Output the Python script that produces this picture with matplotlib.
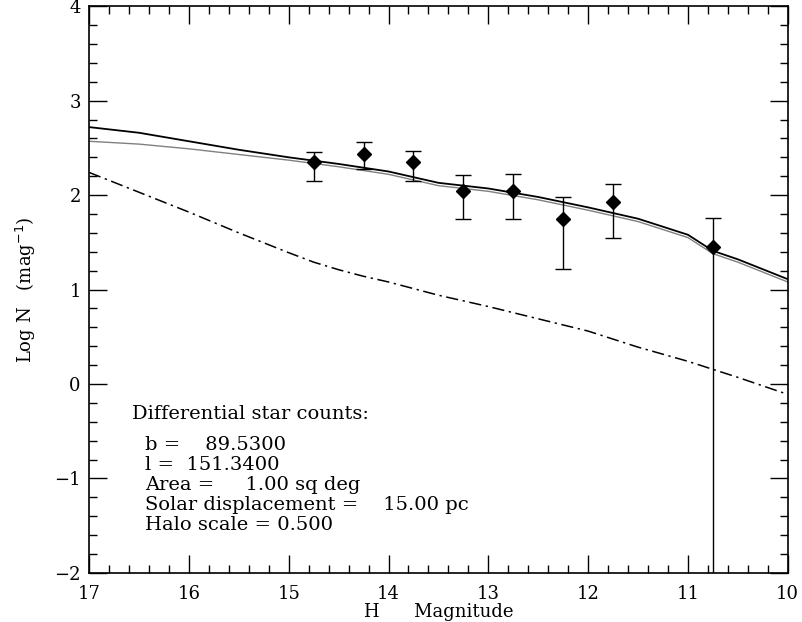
import numpy as np
import matplotlib
matplotlib.use('Agg')
import matplotlib.pyplot as plt
from matplotlib.ticker import MultipleLocator

# observed differential counts
obs_mag = [14.75, 14.25, 13.75, 13.25, 12.75, 12.25, 11.75, 10.75]
obs_logn = [2.35, 2.44, 2.35, 2.04, 2.04, 1.75, 1.93, 1.45]
obs_hi = [2.46, 2.56, 2.47, 2.21, 2.22, 1.98, 2.12, 1.76]
obs_lo = [2.15, 2.28, 2.15, 1.75, 1.75, 1.22, 1.55, -2.6]

# model curves
model_mag = [17.0, 16.5, 16.0, 15.5, 15.0, 14.5, 14.0, 13.5, 13.0, 12.5, 12.0, 11.5, 11.0, 10.75, 10.5, 10.0]
model_total = [2.72, 2.66, 2.57, 2.48, 2.40, 2.33, 2.25, 2.13, 2.07, 1.98, 1.87, 1.75, 1.58, 1.41, 1.32, 1.11]
model_disk = [2.57, 2.54, 2.49, 2.43, 2.37, 2.30, 2.22, 2.10, 2.04, 1.95, 1.84, 1.72, 1.55, 1.38, 1.29, 1.08]

halo_mag = [17.0, 16.5, 16.0, 15.5, 15.0, 14.75, 14.5, 14.25, 14.0, 13.5, 13.0, 12.5, 12.0, 11.5, 11.0, 10.5, 10.0]
halo_logn = [2.24, 2.03, 1.82, 1.60, 1.39, 1.29, 1.21, 1.14, 1.08, 0.94, 0.82, 0.69, 0.56, 0.39, 0.24, 0.07, -0.11]

info_lines = ['b =    89.5300',
              'l =  151.3400',
              'Area =     1.00 sq deg',
              'Solar displacement =    15.00 pc',
              'Halo scale = 0.500']

plt.rcParams['font.family'] = ['DejaVu Serif']

fig = plt.figure(figsize=(8.03, 6.22), dpi=100)
ax = fig.add_axes([0.111, 0.079, 0.870, 0.911])

ax.plot(model_mag, model_total, color='black', lw=1.3)
ax.plot(model_mag, model_disk, color='#808080', lw=1.0)
ax.plot(halo_mag, halo_logn, color='black', lw=1.1, dashes=(8, 3, 1.5, 3))

yerr = [np.array(obs_logn) - np.array(obs_lo), np.array(obs_hi) - np.array(obs_logn)]
ax.errorbar(obs_mag, obs_logn, yerr=yerr, fmt='D', color='black', ms=7,
            ecolor='black', elinewidth=1.0, capsize=6, capthick=1.0)

ax.set_xlim(17, 10)
ax.set_ylim(-2, 4)
ax.xaxis.set_major_locator(MultipleLocator(1))
ax.xaxis.set_minor_locator(MultipleLocator(0.2))
ax.yaxis.set_major_locator(MultipleLocator(1))
ax.yaxis.set_minor_locator(MultipleLocator(0.2))
ax.tick_params(which='both', direction='in', top=True, right=True, labelsize=13, width=1.0)
ax.tick_params(which='major', length=13)
ax.tick_params(which='minor', length=6)
ax.tick_params(axis='x', pad=9)
ax.tick_params(axis='y', pad=6)
for s in ax.spines.values():
    s.set_linewidth(1.2)

ax.set_xlabel('H      Magnitude', fontsize=13, labelpad=0)
ax.set_ylabel('Log N   (mag$^{-1}$)', fontsize=13, labelpad=12)

ax.text(16.57, -0.32, 'Differential star counts:', fontsize=14, va='center')
for i, line in enumerate(info_lines):
    ax.text(16.44, -0.65 - i * 0.212, line, fontsize=14, va='center')

fig.savefig('out.png', dpi=100)
